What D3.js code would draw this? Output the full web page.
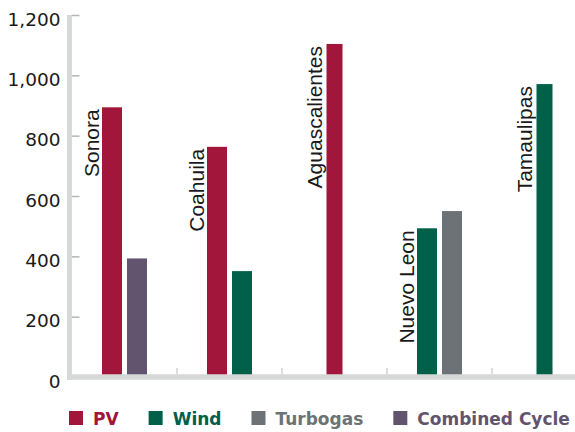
<!DOCTYPE html>
<html><head><meta charset="utf-8">
<script src="https://cdn.jsdelivr.net/npm/d3@7"></script>
<style>body{margin:0;background:#fff}svg{display:block}</style>
</head><body>
<svg id="c" width="575" height="432"></svg>
<script>
const categories = ["Sonora", "Coahuila", "Aguascalientes", "Nuevo Leon", "Tamaulipas"];
const seriesNames = ["PV", "Wind", "Turbogas", "Combined Cycle"];
const seriesColors = ["#A1163A", "#00604A", "#6C7275", "#62546F"];
const pvValues = [894, 763, 1104, null, null];
const windValues = [null, 351, null, 493, 971];
const turbogasValues = [null, null, null, 550, null];
const combinedCycleValues = [393, null, null, null, null];
const yTicks = [0, 200, 400, 600, 800, 1000, 1200];

const seriesValues = [pvValues, windValues, turbogasValues, combinedCycleValues];
const svg = d3.select("#c");
const W = 575;
const y = d3.scaleLinear().domain([0, 1200]).range([377, 15]);
const x = d3.scaleBand().domain(categories).range([72, 597]).padding(0);
const barW = 20, barGap = 5;
const axisColor = "#D6D7D7";

// bars
const g = svg.append("g");
categories.forEach((cat, ci) => {
  const present = seriesValues.map((vals, si) => ({si, v: vals[ci]})).filter(d => d.v != null);
  const groupW = present.length * barW + (present.length - 1) * barGap;
  const inner = d3.scaleBand().domain(present.map(d => d.si))
    .range([0, groupW])
    .paddingInner(barGap / (barW + barGap));
  const x0 = x(cat) + (x.bandwidth() - groupW) / 2;
  g.selectAll(null).data(present).enter().append("rect")
    .attr("x", d => x0 + inner(d.si))
    .attr("y", d => y(d.v))
    .attr("width", inner.bandwidth())
    .attr("height", d => y(0) - y(d.v))
    .attr("fill", d => seriesColors[d.si]);
  const firstTop = y(present[0].v);
  g.append("text")
    .attr("transform", `translate(${x0 - 3},${firstTop + 2}) rotate(-90)`)
    .attr("text-anchor", "end")
    .attr("font-family", "'Liberation Sans', Arial, sans-serif")
    .attr("font-size", 21)
    .attr("fill", "#1a1a1a")
    .text(cat);
});

// y axis
const yAxis = d3.axisLeft(y).tickValues(yTicks).tickFormat(d3.format(",")).tickSize(0).tickPadding(0);
const ya = svg.append("g").attr("transform", "translate(69.5,0)").call(yAxis);
ya.select(".domain").remove();
ya.selectAll("text")
  .attr("x", -9).attr("dy", "0.38em").attr("y", 3)
  .attr("font-family", "'DejaVu Sans', sans-serif").attr("font-size", 18.5).attr("fill", "#1a1a1a");
ya.selectAll(".tick").append("line").attr("x1", 2).attr("x2", 10).attr("stroke", "#B5B6B6").attr("stroke-width", 1.5);
svg.append("line").attr("x1", 69.5).attr("x2", 69.5).attr("y1", y(1200)).attr("y2", y(0) + 3)
  .attr("stroke", axisColor).attr("stroke-width", 5);

// x axis line and boundary ticks
svg.append("line").attr("x1", 67).attr("x2", W).attr("y1", y(0)).attr("y2", y(0))
  .attr("stroke", axisColor).attr("stroke-width", 5.5);
svg.selectAll(null).data(categories.slice(1)).enter().append("line")
  .attr("x1", d => x(d)).attr("x2", d => x(d))
  .attr("y1", y(0) - 3).attr("y2", y(0) - 9)
  .attr("stroke", "#C4C5C5").attr("stroke-width", 1.2);

// legend
const lg = svg.append("g");
let lx = 69;
seriesNames.forEach((name, i) => {
  lg.append("rect").attr("x", lx).attr("y", 411).attr("width", 14).attr("height", 14).attr("fill", seriesColors[i]);
  const t = lg.append("text").attr("x", lx + 24).attr("y", 425)
    .attr("font-family", "'DejaVu Sans', sans-serif").attr("font-weight", "bold").attr("font-size", 17)
    .attr("fill", seriesColors[i]).text(name);
  lx += 24 + t.node().getComputedTextLength() + 30;
});
</script>
</body></html>
